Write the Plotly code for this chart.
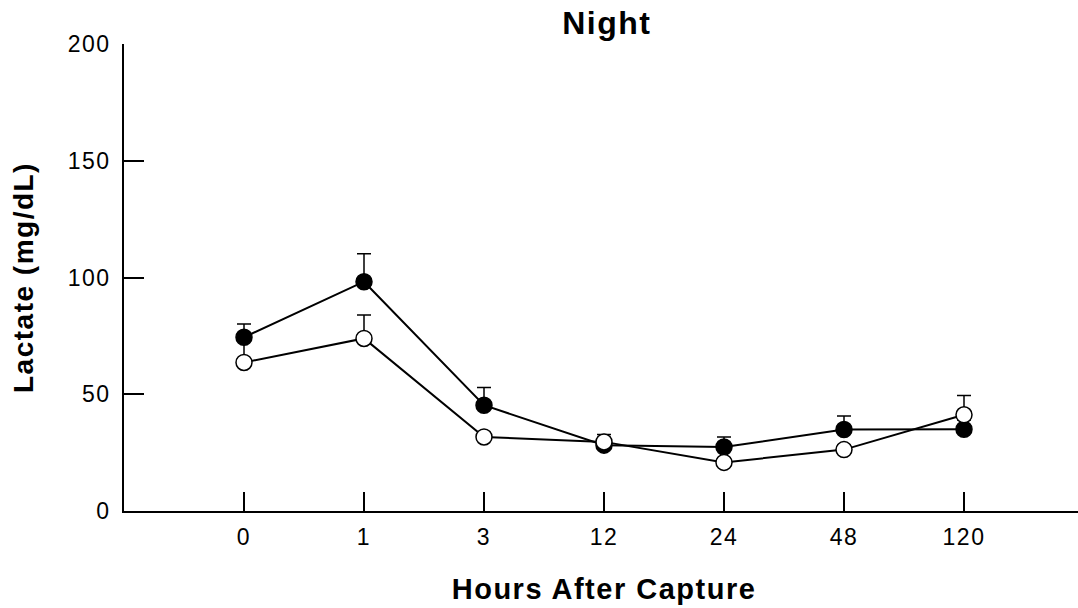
import plotly.graph_objects as go

# Sampling times (hours after capture) and lactate means / upper SE
hours = ["0", "1", "3", "12", "24", "48", "120"]
lactate_filled = [74.4, 98.2, 45.3, 28.2, 27.4, 34.9, 35.0]
se_filled = [5.7, 12.0, 7.6, 4.6, 4.3, 5.8, 4.0]
lactate_open = [63.6, 73.9, 31.7, 29.6, 20.8, 26.3, 41.2]
se_open = [10.0, 10.0, 2.0, 2.0, 2.0, 2.0, 8.3]

y_ticks = [0, 50, 100, 150, 200]

FONT = "Arial, Liberation Sans, Helvetica, sans-serif"


def series(values, errors, fill):
    return go.Scatter(
        x=hours,
        y=values,
        mode="lines+markers",
        line=dict(color="black", width=2),
        marker=dict(symbol="circle", size=16, color=fill,
                    line=dict(color="black", width=1.5)),
        error_y=dict(type="data", array=errors, arrayminus=[0] * len(errors),
                     symmetric=False, color="black", thickness=1.5, width=7),
        showlegend=False,
        hoverinfo="x+y",
    )


fig = go.Figure()
fig.add_trace(series(lactate_filled, se_filled, "black"))
fig.add_trace(series(lactate_open, se_open, "white"))

fig.update_layout(
    width=1078,
    height=608,
    margin=dict(l=124, r=0, t=44, b=97),
    paper_bgcolor="white",
    plot_bgcolor="white",
    font=dict(family=FONT, color="black", size=23),
    xaxis=dict(
        type="category",
        range=[-1.0, 6.95],
        showline=True, linecolor="black", linewidth=1.5,
        ticks="inside", ticklen=19, tickwidth=1.5, tickcolor="black",
        showgrid=False, zeroline=False,
        tickfont=dict(size=23),
        ticklabelstandoff=5,
    ),
    yaxis=dict(
        range=[0, 200],
        tickvals=y_ticks,
        showline=True, linecolor="black", linewidth=1.5,
        ticks="inside", ticklen=20, tickwidth=1.5, tickcolor="black",
        showgrid=False, zeroline=False,
        tickfont=dict(size=23),
        ticklabelstandoff=7,
    ),
    annotations=[
        dict(text="<b>Night</b>", xref="paper", yref="paper",
             x=0.5058, y=1.0443, xanchor="center", yanchor="middle",
             showarrow=False, font=dict(size=32)),
        dict(text="<b>Hours After Capture</b>", xref="paper", yref="paper",
             x=0.5031, y=-0.1666, xanchor="center", yanchor="middle",
             showarrow=False, font=dict(size=29)),
        dict(text="<b>Lactate (mg/dL)</b>", xref="paper", yref="paper",
             x=-0.1056, y=0.5, xanchor="center", yanchor="middle",
             textangle=-90, showarrow=False, font=dict(size=28)),
    ],
)

# Slightly tracked lettering for labels and titles
tracking_css = (
    "var s=document.createElement('style');"
    "s.textContent='.xtick text,.ytick text,.annotation-text{letter-spacing:1.5px}';"
    "document.head.appendChild(s);"
)

fig.write_html("out.html", post_script=tracking_css)
